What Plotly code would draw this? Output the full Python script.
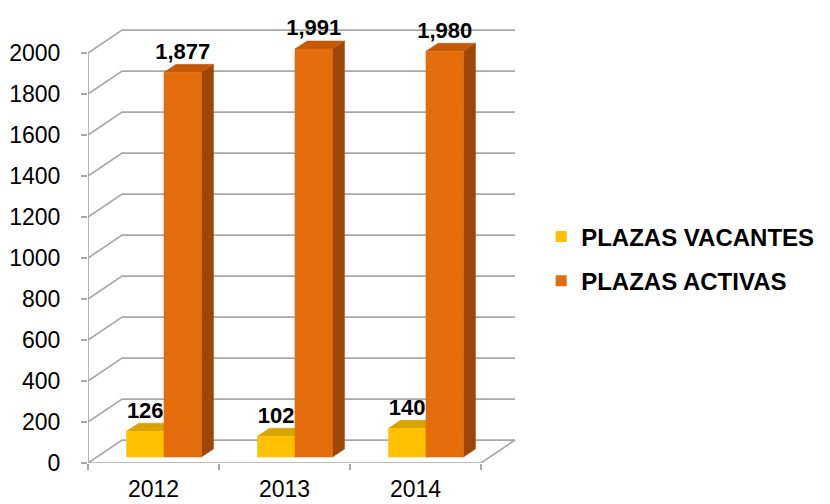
import plotly.graph_objects as go

# ---- data ----
categories = ["2012", "2013", "2014"]
series_names = ["PLAZAS VACANTES", "PLAZAS ACTIVAS"]
vacantes = [126, 102, 140]
activas = [1877, 1991, 1980]
y_ticks = [0, 200, 400, 600, 800, 1000, 1200, 1400, 1600, 1800, 2000]

# ---- style / pseudo-3D geometry (in axis units) ----
WALL_DX, WALL_DY = 0.26, 112      # depth of floor / back wall
BAR_W = 0.286                     # width of one bar
BAR_SHIFT = 0.08                  # group centre offset from category centre
BAR_BASE = 29                     # bars stand mid-depth on the floor
DEP_DX, DEP_DY = 0.092, 39        # bar depth
GRID = "#A8A8A8"
FRONT = ["#FFC000", "#E46C0A"]
TOPC = ["#D6A300", "#C45A08"]
SIDE = ["#B98D00", "#9C4706"]
FONT = "Liberation Sans, Arial, sans-serif"

n = len(categories)
x_left, x_right = -0.5, n - 0.5

fig = go.Figure()

# back wall grid lines with their diagonal returns
gx, gy = [], []
for v in y_ticks:
    gx += [x_left, x_left + WALL_DX, x_right + WALL_DX, None]
    gy += [v, v + WALL_DY, v + WALL_DY, None]
# floor front edge and right return, left vertical axis
gx += [x_left, x_right, x_right + WALL_DX, None, x_left, x_left]
gy += [0, 0, WALL_DY, None, 0, y_ticks[-1]]
fig.add_trace(go.Scatter(x=gx, y=gy, mode="lines", line=dict(color=GRID, width=1.7),
                         hoverinfo="skip", showlegend=False, cliponaxis=False))


def poly_trace(xs, ys, color):
    return go.Scatter(x=xs, y=ys, mode="lines", fill="toself", fillcolor=color,
                      line=dict(color=color, width=0.5), hoverinfo="skip",
                      showlegend=False)


label_x = [[], []]
label_y = [[], []]
label_t = [[], []]
for s, vals in enumerate([vacantes, activas]):
    fx, fy, tx, ty, sx, sy = [], [], [], [], [], []
    for i, v in enumerate(vals):
        x0 = i + BAR_SHIFT - BAR_W + s * BAR_W
        x1 = x0 + BAR_W
        b = BAR_BASE
        t = BAR_BASE + v
        fx += [x0, x1, x1, x0, x0, None]
        fy += [b, b, t, t, b, None]
        if s == 0:
            tx += [x0, x1, x1, x0 + DEP_DX, x0, None]
        else:
            tx += [x0, x1, x1 + DEP_DX, x0 + DEP_DX, x0, None]
            sx += [x1, x1 + DEP_DX, x1 + DEP_DX, x1, x1, None]
            sy += [b, b + DEP_DY, t + DEP_DY, t, b, None]
        ty += [t, t, t + DEP_DY, t + DEP_DY, t, None]
        label_x[s].append((x0 + x1) / 2)
        label_y[s].append(t + DEP_DY)
        label_t[s].append(f"{v:,}")
    if sx:
        fig.add_trace(poly_trace(sx, sy, SIDE[s]))
    fig.add_trace(poly_trace(tx, ty, TOPC[s]))
    fig.add_trace(poly_trace(fx, fy, FRONT[s]))

for s in range(2):
    fig.add_trace(go.Scatter(x=label_x[s], y=label_y[s], text=label_t[s], mode="text",
                             textposition="top center", cliponaxis=False,
                             textfont=dict(family=FONT, size=22, color="#000000", weight="bold"),
                             hoverinfo="skip", showlegend=False))

# legend entries
for s in range(2):
    fig.add_trace(go.Scatter(x=[None], y=[None], mode="markers", name=series_names[s],
                             legendgroup=series_names[s],
                             marker=dict(symbol="square", size=11, color=FRONT[s])))

fig.update_layout(
    width=822, height=496,
    margin=dict(l=80, r=310, t=18, b=41, autoexpand=False),
    paper_bgcolor="white", plot_bgcolor="white",
    showlegend=True,
    legend=dict(x=1.049, xanchor="left", y=0.467, yanchor="middle",
                font=dict(family=FONT, size=24, color="#000000", weight="bold"),
                traceorder="grouped", tracegroupgap=10, bgcolor="rgba(0,0,0,0)"),
    xaxis=dict(range=[x_left, 2.798], tickvals=list(range(n)), ticktext=categories,
               ticks="", ticklabelstandoff=10, showgrid=False, zeroline=False, showline=False,
               automargin=False,
               tickfont=dict(family=FONT, size=23, color="#000000"),
               minor=dict(tickvals=[x_left + k for k in range(n + 1)], ticks="outside",
                          ticklen=6, tickcolor=GRID, tickwidth=1.7, showgrid=False)),
    yaxis=dict(range=[0, 2132], tickvals=y_ticks, ticks="outside", ticklen=6,
               tickcolor=GRID, tickwidth=1.7, ticklabelstandoff=16, automargin=False,
               showgrid=False, zeroline=False, showline=False,
               tickfont=dict(family=FONT, size=23, color="#000000")),
)

fig.write_html("out.html")
